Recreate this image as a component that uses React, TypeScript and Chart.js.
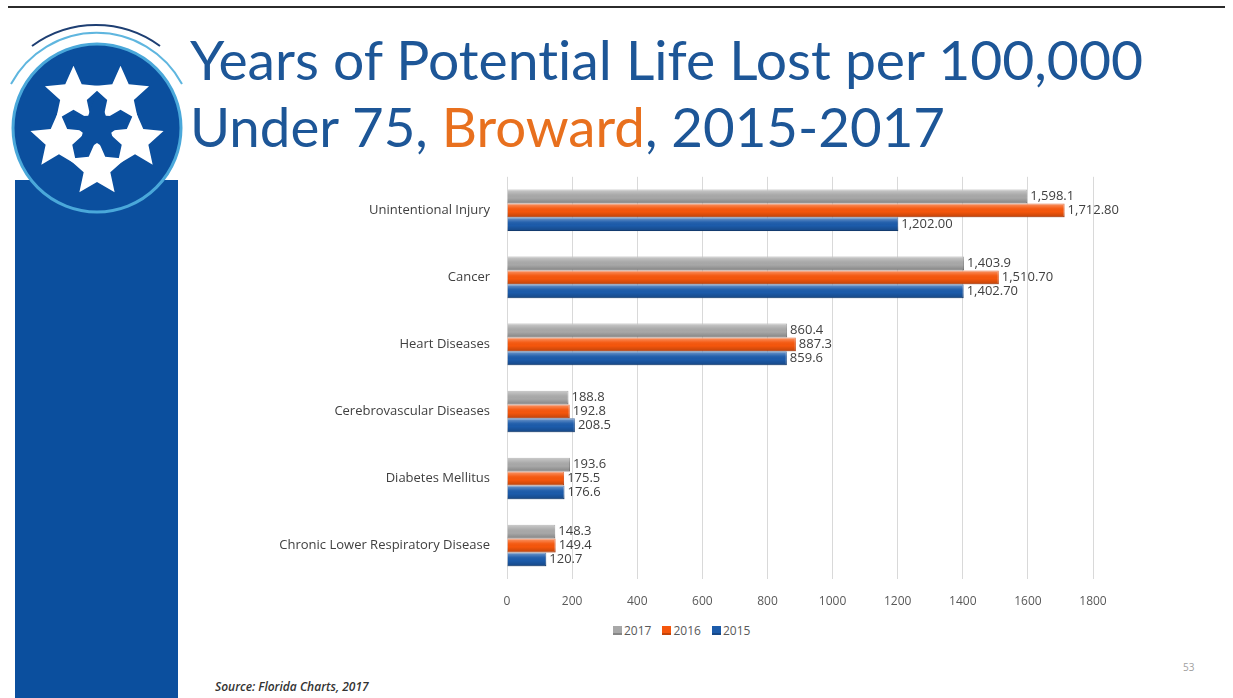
import React, { useEffect, useLayoutEffect, useRef } from "react";
import { Chart, registerables } from "chart.js";

Chart.register(...registerables);

const categories = [
  "Unintentional Injury",
  "Cancer",
  "Heart Diseases",
  "Cerebrovascular Diseases",
  "Diabetes Mellitus",
  "Chronic Lower Respiratory Disease",
];
const seriesNames = ["2017", "2016", "2015"];
const values2017 = [1598.1, 1403.9, 860.4, 188.8, 193.6, 148.3];
const values2016 = [1712.8, 1510.7, 887.3, 192.8, 175.5, 149.4];
const values2015 = [1202.0, 1402.7, 859.6, 208.5, 176.6, 120.7];
const labels2017 = ["1,598.1", "1,403.9", "860.4", "188.8", "193.6", "148.3"];
const labels2016 = ["1,712.80", "1,510.70", "887.3", "192.8", "175.5", "149.4"];
const labels2015 = ["1,202.00", "1,402.70", "859.6", "208.5", "176.6", "120.7"];
const xTickValues = [0, 200, 400, 600, 800, 1000, 1200, 1400, 1600, 1800];
const xTickLabels = ["0", "200", "400", "600", "800", "1000", "1200", "1400", "1600", "1800"];

const seriesColors = ["#A8A8A8", "#F5560C", "#1C5BAA"];
const seriesBorders = ["#8E8E8E", "#D9470A", "#17498A"];
const valueLabels = [labels2017, labels2016, labels2015];

const FONT = "'Open Sans', 'DejaVu Sans', sans-serif";

function starPoints(cx: number, cy: number, R: number, r: number, rotDeg: number) {
  const pts: string[] = [];
  for (let i = 0; i < 10; i++) {
    const rad = i % 2 === 0 ? R : r;
    const a = ((rotDeg + i * 36) * Math.PI) / 180;
    pts.push(`${(cx + rad * Math.cos(a)).toFixed(2)},${(cy + rad * Math.sin(a)).toFixed(2)}`);
  }
  return pts.join(" ");
}

function Logo() {
  const cx = 97;
  const cy = 128;
  const angles = [-126, -54, 18, 90, 162];
  return (
    <svg width={200} height={240} style={{ position: "absolute", left: 0, top: 0 }}>
      <path d={`M 32 46 A 108 108 0 0 1 160 46`} stroke="#1E3F73" strokeWidth={2} fill="none" />
      <path d={`M 11 84 A 97 97 0 0 1 182 84`} stroke="#5FB6DF" strokeWidth={2} fill="none" />
      <circle cx={cx} cy={cy} r={84} fill="#0B4F9E" stroke="#4AA8DA" strokeWidth={3} />
      {angles.map((a, i) => {
        const rad = (a * Math.PI) / 180;
        return (
          <polygon
            key={i}
            points={starPoints(cx + 40 * Math.cos(rad), cy + 40 * Math.sin(rad), 30, 14, a + 36)}
            fill="#FFFFFF"
          />
        );
      })}
      <polygon points={starPoints(cx, cy, 36, 15, -90)} fill="#0B4F9E" />
    </svg>
  );
}

function FitText({ width, style, children }: { width: number; style: React.CSSProperties; children: React.ReactNode }) {
  const ref = useRef<HTMLDivElement>(null);
  useLayoutEffect(() => {
    const el = ref.current;
    if (!el) return;
    el.style.transform = "none";
    const w = el.getBoundingClientRect().width;
    if (w > 0) el.style.transform = `scaleX(${width / w})`;
  }, [width]);
  return (
    <div
      ref={ref}
      style={{
        ...style,
        position: "absolute",
        whiteSpace: "nowrap",
        transformOrigin: "left top",
        display: "inline-block",
        fontVariantLigatures: "none",
        fontFeatureSettings: "'liga' 0, 'clig' 0",
      }}
    >
      {children}
    </div>
  );
}

const barShadePlugin = {
  id: "barShade",
  afterDatasetsDraw(chart: any) {
    const ctx = chart.ctx;
    chart.data.datasets.forEach((_ds: any, di: number) => {
      const meta = chart.getDatasetMeta(di);
      meta.data.forEach((el: any) => {
        const p = el.getProps(["x", "y", "base", "height"], true);
        const top = p.y - p.height / 2;
        const g = ctx.createLinearGradient(0, top, 0, top + p.height);
        g.addColorStop(0, "rgba(255,255,255,0.40)");
        g.addColorStop(0.35, "rgba(255,255,255,0.05)");
        g.addColorStop(0.6, "rgba(0,0,0,0)");
        g.addColorStop(1, "rgba(0,0,0,0.22)");
        ctx.save();
        ctx.fillStyle = g;
        ctx.fillRect(p.base, top, p.x - p.base, p.height);
        ctx.restore();
      });
    });
  },
};

const valueLabelPlugin = {
  id: "valueLabels",
  afterDatasetsDraw(chart: any) {
    const ctx = chart.ctx;
    ctx.save();
    ctx.font = `13px ${FONT}`;
    ctx.fillStyle = "#404040";
    ctx.textAlign = "left";
    ctx.textBaseline = "middle";
    chart.data.datasets.forEach((_ds: any, di: number) => {
      const meta = chart.getDatasetMeta(di);
      meta.data.forEach((el: any, i: number) => {
        const p = el.getProps(["x", "y"], true);
        ctx.fillText(valueLabels[di][i], p.x + 3, p.y);
      });
    });
    ctx.restore();
  },
};

function BarChart() {
  const canvasRef = useRef<HTMLCanvasElement>(null);
  useEffect(() => {
    const canvas = canvasRef.current;
    if (!canvas) return;
    const chart = new Chart(canvas, {
      type: "bar",
      data: {
        labels: categories,
        datasets: [
          { label: seriesNames[0], data: values2017 },
          { label: seriesNames[1], data: values2016 },
          { label: seriesNames[2], data: values2015 },
        ].map((d, i) => ({
          ...d,
          backgroundColor: seriesColors[i],
          borderColor: seriesBorders[i],
          borderWidth: 1,
          categoryPercentage: 0.62,
          barPercentage: 1.0,
        })),
      },
      options: {
        indexAxis: "y",
        animation: false,
        responsive: false,
        maintainAspectRatio: false,
        layout: { padding: { top: 7, right: 57, bottom: 3, left: 0 } },
        plugins: {
          legend: { display: false },
          tooltip: { enabled: false },
          title: { display: false },
        },
        scales: {
          x: {
            min: 0,
            max: 1800,
            afterBuildTicks(scale: any) {
              scale.ticks = xTickValues.map((v) => ({ value: v }));
            },
            afterFit(scale: any) {
              scale.height = 30;
            },
            grid: { color: "#D9D9D9", drawTicks: false, lineWidth: 1 },
            border: { display: false },
            ticks: {
              color: "#595959",
              font: { family: FONT, size: 12 },
              padding: 15,
              callback: (_v: any, i: number) => xTickLabels[i],
            },
          },
          y: {
            afterFit(scale: any) {
              scale.width = 317;
            },
            grid: { display: false, drawTicks: false },
            border: { display: false },
            ticks: {
              color: "#404040",
              font: { family: FONT, size: 13 },
              padding: 17,
            },
          },
        },
      },
      plugins: [barShadePlugin, valueLabelPlugin],
    } as any);
    return () => chart.destroy();
  }, []);
  return (
    <canvas
      ref={canvasRef}
      width={960}
      height={460}
      style={{ position: "absolute", left: 190, top: 152, width: 960, height: 460 }}
    />
  );
}

function LegendItem({ color, label }: { color: string; label: string }) {
  return (
    <div style={{ display: "flex", alignItems: "center", marginRight: 11 }}>
      <span style={{ width: 9, height: 9, background: color, display: "inline-block", marginRight: 2, boxShadow: "inset 0 -2px 0 rgba(0,0,0,0.2)" }} />
      <span style={{ fontFamily: FONT, fontSize: 12, color: "#595959" }}>{label}</span>
    </div>
  );
}

export default function App() {
  return (
    <div
      style={{
        position: "absolute",
        left: 0,
        top: 0,
        width: 1233,
        height: 698,
        background: "#FFFFFF",
        overflow: "hidden",
      }}
    >
      <div style={{ position: "absolute", left: 8, top: 6, width: 1217, height: 2, background: "#2B2B2B" }} />
      <div style={{ position: "absolute", left: 15, top: 180, width: 163, height: 518, background: "#0B4F9E" }} />
      <Logo />
      <FitText width={953} style={{ left: 190, top: 33, fontFamily: "Lato, 'Open Sans', sans-serif", fontSize: 54, lineHeight: "54px", color: "#1D5697" }}>
        Years of Potential Life Lost per 100,000
      </FitText>
      <FitText width={755} style={{ left: 190, top: 100, fontFamily: "Lato, 'Open Sans', sans-serif", fontSize: 54, lineHeight: "54px", color: "#1D5697" }}>
        Under 75, <span style={{ color: "#E8701E" }}>Broward</span>, 2015-2017
      </FitText>
      <BarChart />
      <div style={{ position: "absolute", left: 613, top: 622, display: "flex" }}>
        {seriesNames.map((n, i) => (
          <LegendItem key={n} color={seriesColors[i]} label={n} />
        ))}
      </div>
      <div
        style={{
          position: "absolute",
          left: 215,
          top: 678,
          fontFamily: FONT,
          fontStyle: "italic",
          fontWeight: 600,
          fontSize: 12,
          color: "#333333",
          whiteSpace: "nowrap",
        }}
      >
        Source: Florida Charts, 2017
      </div>
      <div style={{ position: "absolute", left: 1183, top: 660, fontFamily: FONT, fontSize: 10, color: "#A0A0A0" }}>53</div>
    </div>
  );
}
